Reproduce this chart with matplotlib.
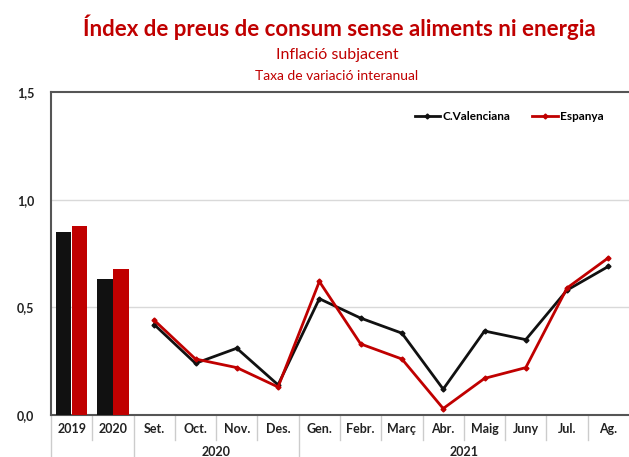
import matplotlib
matplotlib.use("Agg")
import matplotlib.pyplot as plt
import matplotlib.transforms as mtransforms

plt.rcParams['font.family'] = ['Lato', 'DejaVu Sans']

categories = ["2019", "2020", "Set.", "Oct.", "Nov.", "Des.", "Gen.", "Febr.",
              "Març", "Abr.", "Maig", "Juny", "Jul.", "Ag."]
bar_years = ["2019", "2020"]
bar_cv = [0.85, 0.63]
bar_es = [0.88, 0.68]
months = ["Set.", "Oct.", "Nov.", "Des.", "Gen.", "Febr.", "Març", "Abr.",
          "Maig", "Juny", "Jul.", "Ag."]
line_cv = [0.42, 0.24, 0.31, 0.14, 0.54, 0.45, 0.38, 0.12, 0.39, 0.35, 0.58, 0.69]
line_es = [0.44, 0.26, 0.22, 0.13, 0.62, 0.33, 0.26, 0.03, 0.17, 0.22, 0.59, 0.73]
groups = [("2020", ["Set.", "Oct.", "Nov.", "Des."]),
          ("2021", ["Gen.", "Febr.", "Març", "Abr.", "Maig", "Juny", "Jul.", "Ag."])]
yticks = [0.0, 0.5, 1.0, 1.5]
ytick_labels = ["0,0", "0,5", "1,0", "1,5"]

BLACK = "#111111"
RED = "#C00000"
GRAY = "#555555"

fig = plt.figure(figsize=(6.29, 4.57), dpi=100)
ax = fig.add_axes([51/629, 1-415/457, 1-51/629, (415-92)/457])

idx = {c: i for i, c in enumerate(categories)}
bw = 0.37
bx = [idx[y] for y in bar_years]
ax.bar([x - bw/2 - 0.01 for x in bx], bar_cv, width=bw, color=BLACK, zorder=3)
ax.bar([x + bw/2 + 0.01 for x in bx], bar_es, width=bw, color=RED, zorder=3)

mx = [idx[m] for m in months]
ax.plot(mx, line_cv, color=BLACK, lw=2.0, marker='D', ms=2.5, zorder=4, label="C.Valenciana")
ax.plot(mx, line_es, color=RED, lw=2.0, marker='D', ms=2.5, zorder=5, label="Espanya")

ax.set_xlim(-0.5, len(categories) - 0.5)
ax.set_ylim(0, 1.5)
ax.set_yticks(yticks)
ax.set_yticklabels(ytick_labels, fontsize=9, fontweight='bold', color="#222222")
ax.tick_params(axis='y', length=0, pad=12)
ax.set_xticks(range(len(categories)))
ax.set_xticklabels(categories, fontsize=9, fontweight='bold', color="#222222")
ax.tick_params(axis='x', length=0, pad=6)
for y in yticks[1:3]:
    ax.axhline(y, color="#d9d9d9", lw=1.0, zorder=1)

for s in ['right']:
    ax.spines[s].set_visible(False)
for s in ['left', 'top', 'bottom']:
    ax.spines[s].set_color(GRAY)
    ax.spines[s].set_linewidth(1.5)

trans = mtransforms.blended_transform_factory(ax.transData, ax.transAxes)
# short dividers between months
short = [0.5]
start = 2
for name, ms_ in groups:
    for k in range(1, len(ms_)):
        short.append(start + k - 0.5)
    start += len(ms_)
for x in short:
    ax.plot([x, x], [0, -0.078], transform=trans, color="#cccccc", lw=1.0, clip_on=False)
# long dividers between groups
long_ = [-0.5, 1.5]
start = 2
for name, ms_ in groups:
    start += len(ms_)
    long_.append(start - 0.5)
for x in long_[:-1]:
    ax.plot([x, x], [0, -0.2], transform=trans, color="#cccccc", lw=1.0, clip_on=False)
start = 2
for name, ms_ in groups:
    cx = start + (len(ms_) - 1) / 2
    ax.text(cx, -0.115, name, transform=trans, ha='center', va='center',
            fontsize=9, fontweight='bold', color="#222222")
    start += len(ms_)

leg = ax.legend(loc='upper right', bbox_to_anchor=(0.975, 0.975), ncol=2, frameon=False,
                prop={'size': 8.5, 'weight': 'bold'}, handlelength=2.2, handletextpad=0.2,
                columnspacing=1.8)

fig.text(339/629, 1-27/457, "Índex de preus de consum sense aliments ni energia",
         ha='center', va='center', fontsize=16, color=RED, fontweight='bold')
fig.text(337/629, 1-55/457, "Inflació subjacent", ha='center', va='center',
         fontsize=11.5, color=RED)
fig.text(337/629, 1-76/457, "Taxa de variació interanual", ha='center', va='center',
         fontsize=10, color=RED)

fig.savefig("out.png", dpi=100)
